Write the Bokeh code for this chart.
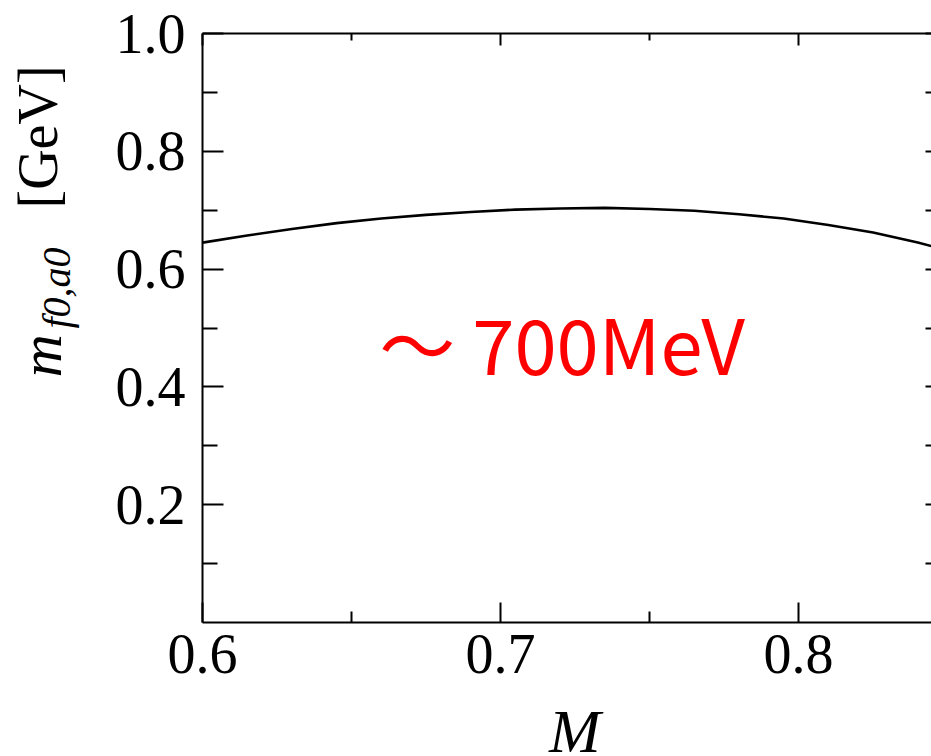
import math

from bokeh.core.properties import value
from bokeh.embed import file_html
from bokeh.layouts import column, row
from bokeh.models import (CustomJSTickFormatter, FixedTicker, Label, LinearAxis,
                          PrintfTickFormatter, Range1d)
from bokeh.plotting import figure
from bokeh.resources import INLINE

# Scalar meson mass m_{f0,a0} [GeV] as a function of M
mass_scale = [0.600, 0.615, 0.630, 0.645, 0.660, 0.675, 0.690, 0.705, 0.720,
              0.735, 0.750, 0.765, 0.780, 0.795, 0.810, 0.825, 0.840, 0.850]
meson_mass = [0.645, 0.657, 0.668, 0.678, 0.686, 0.692, 0.697, 0.701, 0.703,
              0.704, 0.702, 0.699, 0.693, 0.686, 0.675, 0.662, 0.645, 0.632]

x_major_ticks = [0.6, 0.7, 0.8]
x_minor_ticks = [0.65, 0.75, 0.85]
y_major_ticks = [0.2, 0.4, 0.6, 0.8, 1.0]
y_minor_ticks = [0.1, 0.3, 0.5, 0.7, 0.9]

note_text = "～ 700MeV"
x_title = "M"

SERIF = "Liberation Serif"
TICK_FONT_SIZE = "56px"

LEFT_W = 100          # strip holding the rotated y title
MAIN_W = 831
MAIN_H = 710
BOTTOM_H = 46         # strip holding the x title
TOTAL_H = MAIN_H + BOTTOM_H

p = figure(
    width=MAIN_W, height=MAIN_H,
    output_backend="svg", toolbar_location=None,
    x_range=Range1d(0.6, 0.8446), y_range=Range1d(0.0, 1.0),
    x_axis_location=None, y_axis_location=None,
    min_border_left=102, min_border_right=0,
    min_border_top=33, min_border_bottom=88,
    background_fill_color="white", border_fill_color="white",
)
p.outline_line_color = None
p.xgrid.visible = False
p.ygrid.visible = False


def make_axis(major, minor, tick_in, minor_in, show_labels, show_line=True):
    if show_labels:
        fmt = PrintfTickFormatter(format="%.1f")
    else:
        fmt = CustomJSTickFormatter(code="return ''")
    ax = LinearAxis(ticker=FixedTicker(ticks=major, minor_ticks=minor), formatter=fmt)
    ax.major_tick_in = tick_in
    ax.major_tick_out = 0
    ax.minor_tick_in = minor_in
    ax.minor_tick_out = 0
    ax.major_tick_line_color = "black"
    ax.minor_tick_line_color = "black"
    ax.major_tick_line_width = 2
    ax.minor_tick_line_width = 2
    ax.axis_line_width = 2
    ax.axis_line_color = "black" if show_line else None
    ax.major_label_text_font = SERIF
    ax.major_label_text_font_size = TICK_FONT_SIZE
    ax.major_label_text_color = "black"
    if not show_labels:
        ax.major_label_standoff = 0
    return ax


left_axis = make_axis(y_major_ticks, y_minor_ticks, 21, 15, True)
left_axis.major_label_standoff = 17
p.add_layout(left_axis, "left")

bottom_axis = make_axis(x_major_ticks, x_minor_ticks, 20, 11, True)
bottom_axis.major_label_standoff = 12
p.add_layout(bottom_axis, "below")

top_axis = make_axis(x_major_ticks, x_minor_ticks, 12, 7, False)
p.add_layout(top_axis, "above")

right_axis = make_axis(y_major_ticks, y_minor_ticks, 6, 6, False, show_line=False)
p.add_layout(right_axis, "right")

# the curve
p.line(mass_scale, meson_mass, line_color="black", line_width=2.6)

# red annotation inside the frame
p.add_layout(Label(x=0.6593, y=0.476, text=note_text, text_color="#ff0000",
                   text_font="Noto Sans CJK JP", text_font_size="76px",
                   text_align="left", text_baseline="alphabetic"))


def text_strip(w, h):
    s = figure(width=w, height=h, output_backend="svg", toolbar_location=None,
               x_range=Range1d(0, w), y_range=Range1d(0, h),
               x_axis_location=None, y_axis_location=None,
               min_border=0, background_fill_color="white",
               border_fill_color="white")
    s.outline_line_color = None
    s.xgrid.visible = False
    s.ygrid.visible = False
    return s


# rotated y title: m_{f0,a0} [GeV]
ystrip = text_strip(LEFT_W, TOTAL_H)
rot = dict(angle=math.pi / 2, text_align="left", text_baseline="alphabetic",
           text_color="black", text_font=value(SERIF))
ystrip.text(x=[40], y=[TOTAL_H - 377], text=["m"], text_font_style="italic",
            text_font_size="60px", **rot)
ystrip.text(x=[56], y=[TOTAL_H - 328], text=["f0,a0"], text_font_style="italic",
            text_font_size="40px", **rot)
ystrip.text(x=[37], y=[TOTAL_H - 208], text=["[GeV]"], text_font_style="normal",
            text_font_size="56px", **rot)

# x title
xstrip = text_strip(MAIN_W, BOTTOM_H)
xstrip.text(x=[395], y=[26], text=[x_title], text_font=value(SERIF),
            text_font_style="italic", text_font_size="62px",
            text_align="left", text_baseline="alphabetic", text_color="black")

layout = row(ystrip, column(p, xstrip, spacing=0), spacing=0)

open("out.html", "w").write(file_html(layout, INLINE))
